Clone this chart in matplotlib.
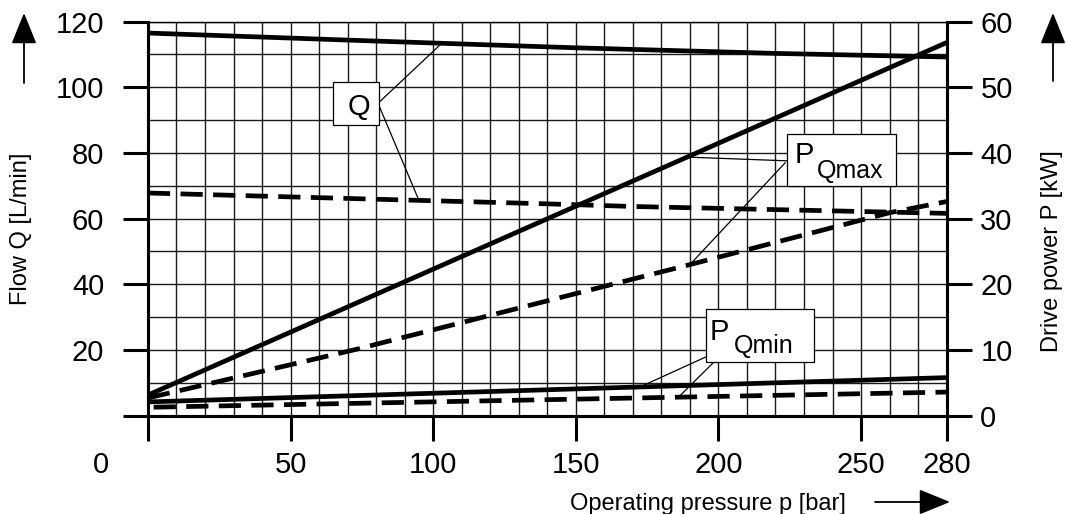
import numpy as np
import matplotlib
matplotlib.use('Agg')
import matplotlib.pyplot as plt
from matplotlib.patches import Rectangle, FancyArrowPatch

plt.rcParams['font.family'] = ['Liberation Sans', 'DejaVu Sans']

# flow Q [L/min] over operating pressure p [bar]
p_q = [0, 75, 150, 220, 280]
q_max = [116.5, 114.2, 112.0, 110.3, 109.2]
p_q_dash = [0, 55, 140, 170, 280]
q_dash = [67.8, 66.5, 64.5, 63.7, 61.6]

# drive power P [kW]
p_pmax = [0, 280]
pwr_max = [3.15, 56.8]
p_pmax_dash = [0, 73, 190, 260, 280]
pwr_max_dash = [2.7, 10.1, 23.0, 30.9, 32.6]
p_pmin = [0, 280]
pwr_min = [2.1, 5.8]
p_pmin_dash = [2, 280]
pwr_min_dash = [1.3, 3.6]

x_ticks = [0, 50, 100, 150, 200, 250, 280]
x_labels = ['', '50', '100', '150', '200', '250', '280']
q_ticks = [0, 20, 40, 60, 80, 100, 120]
q_labels = ['', '20', '40', '60', '80', '100', '120']
pw_ticks = [0, 10, 20, 30, 40, 50, 60]
pw_labels = ['0', '10', '20', '30', '40', '50', '60']

LW = 3.4
DASH = (4.7, 2.2)
LEAD = 0.9
TICKFONT = 21

fig = plt.figure(figsize=(10.66, 5.14), dpi=100)
ax = fig.add_axes([0.1388, 0.1912, 0.7492, 0.7669])
ax.set_xlim(0, 280)
ax.set_ylim(0, 120)

# grid every 10 in both directions, major ticks only carry labels
ax.xaxis.remove_overlapping_locs = False
ax.yaxis.remove_overlapping_locs = False
ax.set_xticks(x_ticks, x_labels)
ax.set_xticks(np.arange(0, 281, 10), minor=True)
ax.set_yticks(q_ticks, q_labels)
ax.set_yticks(np.arange(0, 121, 10), minor=True)
ax.grid(which='minor', color='#1a1a1a', lw=1.0)
ax.tick_params(which='minor', length=0)
ax.tick_params(which='major', length=18, width=2.2, labelsize=TICKFONT, color='k')
ax.tick_params(axis='x', pad=7.6)
ax.tick_params(axis='y', pad=13.5)
for side in ['left', 'bottom', 'right']:
    ax.spines[side].set_linewidth(2.2)
ax.spines['top'].set_linewidth(1.0)

ax.plot(p_q, q_max, color='k', lw=LW, solid_capstyle='butt')
ax.plot(p_q_dash, q_dash, color='k', lw=LW, dashes=DASH)

ax2 = ax.twinx()
ax2.set_ylim(0, 60)
ax2.set_yticks(pw_ticks, pw_labels)
ax2.tick_params(length=18, width=2.2, labelsize=TICKFONT, pad=6.3)
for side in ['left', 'bottom', 'right']:
    ax2.spines[side].set_linewidth(2.2)
ax2.spines['top'].set_visible(False)

ax2.plot(p_pmax, pwr_max, color='k', lw=LW, solid_capstyle='butt')
ax2.plot(p_pmax_dash, pwr_max_dash, color='k', lw=LW, dashes=DASH)
ax2.plot(p_pmin, pwr_min, color='k', lw=LW, solid_capstyle='butt')
ax2.plot(p_pmin_dash, pwr_min_dash, color='k', lw=LW, dashes=DASH)

# corner "0" below the pressure axis
ax.annotate('0', xy=(0, 0), xycoords='data', xytext=(-34, -25.6),
            textcoords='offset points', ha='center', va='top', fontsize=TICKFONT)

# Q label with leaders
ax.plot([81.0, 103], [95.4, np.interp(103, p_q, q_max)], color='k', lw=LEAD)
ax.plot([81.0, 95], [94.4, np.interp(95, p_q_dash, q_dash)], color='k', lw=LEAD)
ax.add_patch(Rectangle((64.9, 88.6), 16.1, 12.9, facecolor='white',
                       edgecolor='k', lw=0.9, zorder=5))
ax.text(73.8, 91.4, 'Q', ha='center', va='baseline', fontsize=TICKFONT, zorder=6)

# P_Qmax label with leaders
ax2.plot([224.1, 189], [38.8, np.interp(189, p_pmax, pwr_max)], color='k', lw=LEAD)
ax2.plot([223.4, 190], [38.5, np.interp(190, p_pmax_dash, pwr_max_dash)], color='k', lw=LEAD)
ax2.add_patch(Rectangle((224.1, 35.0), 38.2, 7.95, facecolor='white',
                        edgecolor='k', lw=0.9, zorder=5))
ax2.text(226.6, 38.5, 'P', va='baseline', fontsize=TICKFONT, zorder=6)
ax2.text(234.6, 36.2, 'Qmax', va='baseline', fontsize=18, zorder=6)

# P_Qmin label with leaders
ax2.plot([195.6, 172.5], [8.95, np.interp(172.5, p_pmin, pwr_min)], color='k', lw=LEAD)
ax2.plot([198.1, 186], [8.03, np.interp(186, p_pmin_dash, pwr_min_dash)], color='k', lw=LEAD)
ax2.add_patch(Rectangle((195.6, 8.2), 37.9, 8.05, facecolor='white',
                        edgecolor='k', lw=0.9, zorder=5))
ax2.text(196.8, 11.54, 'P', va='baseline', fontsize=TICKFONT, zorder=6)
ax2.text(205.5, 9.56, 'Qmin', va='baseline', fontsize=18, zorder=6)

# axis titles
fig.text(21 / 1066, 1 - 229 / 514, 'Flow Q [L/min]', rotation=90,
         ha='center', va='center', fontsize=17)
fig.text(1052 / 1066, 1 - 251 / 514, 'Drive power P [kW]', rotation=90,
         ha='center', va='center', fontsize=17)
fig.text(570 / 1066, 1 - 510 / 514, 'Operating pressure p [bar]',
         ha='left', va='baseline', fontsize=17)

# direction arrows
arrow_style = '-|>,head_length=1.94,head_width=0.79'
for start, end in [((24, 83), (24, 13)), ((1053, 81), (1053, 13)),
                   ((875, 502), (950, 502))]:
    fig.add_artist(FancyArrowPatch((start[0] / 1066, 1 - start[1] / 514),
                                   (end[0] / 1066, 1 - end[1] / 514),
                                   transform=fig.transFigure, arrowstyle=arrow_style,
                                   mutation_scale=10, lw=1.3, color='k',
                                   shrinkA=0, shrinkB=0))

fig.savefig('out.png', dpi=100)
